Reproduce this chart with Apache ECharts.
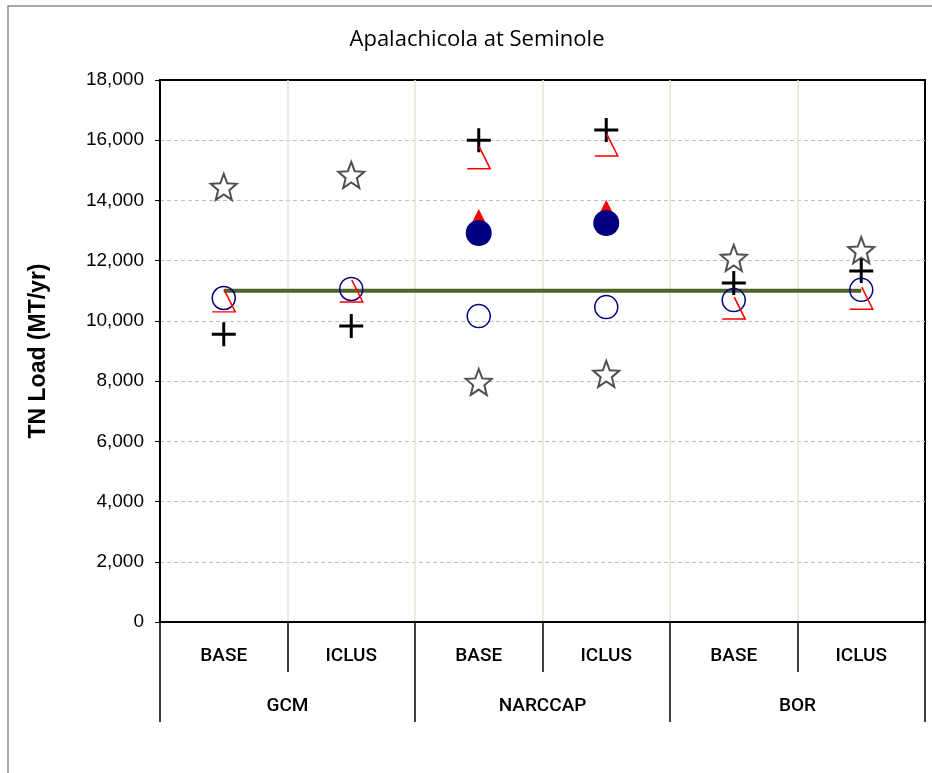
<!DOCTYPE html>
<html><head><meta charset="utf-8">
<script src="https://cdn.jsdelivr.net/npm/echarts@6/dist/echarts.min.js"></script>
<style>html,body{margin:0;padding:0;background:#fff}#c{width:932px;height:773px}</style>
</head><body><div id="c"></div>
<script>
var scenarios = ['BASE','ICLUS','BASE','ICLUS','BASE','ICLUS'];
var groups = ['GCM','NARCCAP','BOR'];
var yTicks = {min:0, max:18000, interval:2000};
var starVals = [14450, 14850, 7970, 8240, 12090, 12350];
var plusVals = [9560, 9830, 16000, 16340, 11260, 11660];
var redHookVals = [11030, 11360, 15780, 16210, 10790, 11120];
var openCircleVals = [10760, 11060, 10160, 10460, 10690, 11030];
var redTriVals = [null, null, 13450, 13760, null, null];
var filledCircleVals = [null, null, 12920, 13250, null, null];
var refLineVals = [11000, 11000, 11000, 11000, 11000, 11000];

function starPath(R, r){
  var p = [];
  for (var i = 0; i < 10; i++) {
    var a = (-90 + i*36) * Math.PI/180, rad = (i%2) ? r : R;
    p.push((R + rad*Math.cos(a)).toFixed(2) + ',' + (R + rad*Math.sin(a)).toFixed(2));
  }
  return 'path://M' + p.join('L') + 'Z';
}
var clear = 'rgba(0,0,0,0)';
var lblFont = 'Roboto, sans-serif';
var chart = echarts.init(document.getElementById('c'));
chart.setOption({
  animation:false,
  backgroundColor:'#fff',
  grid:{left:160, right:7, top:80, bottom:151, show:true, borderColor:'#000', borderWidth:2, backgroundColor:'#fff'},
  graphic:[
    {type:'rect', shape:{x:8, y:6, width:940, height:790}, style:{fill:null, stroke:'#8c8c8c', lineWidth:1.5}, silent:true, z:-10},
    {type:'text', x:477, y:40, style:{text:'Apalachicola at Seminole', font:'22px "Open Sans", sans-serif', fill:'#000', textAlign:'center', textVerticalAlign:'middle'}}
  ],
  xAxis:[
    {type:'category', data:scenarios, position:'bottom', boundaryGap:true,
     axisLine:{show:true, lineStyle:{color:'#000', width:2}},
     axisTick:{show:true, interval:0, length:50, lineStyle:{color:'#000', width:1.5}},
     axisLabel:{interval:0, margin:25, color:'#000', fontSize:19, fontWeight:500, fontFamily:lblFont},
     splitLine:{show:true, interval:0, showMinLine:false, showMaxLine:false, lineStyle:{color:'#e4e4d6', width:1.5}}},
    {type:'category', data:groups, position:'bottom', offset:50, boundaryGap:true,
     axisLine:{show:false},
     axisTick:{show:true, interval:0, length:50, lineStyle:{color:'#000', width:1.5}},
     axisLabel:{interval:0, margin:25, color:'#000', fontSize:19, fontWeight:500, fontFamily:lblFont},
     splitLine:{show:false}}
  ],
  yAxis:[
    {type:'value', min:yTicks.min, max:yTicks.max, interval:yTicks.interval,
     name:'TN Load (MT/yr)', nameLocation:'middle', nameGap:110, nameRotate:90,
     nameTextStyle:{fontSize:23, fontWeight:'bold', color:'#000', fontFamily:'"Liberation Sans", Arial, sans-serif'},
     axisLine:{show:true, lineStyle:{color:'#000', width:2}},
     axisTick:{show:true, length:5, lineStyle:{color:'#000'}},
     axisLabel:{margin:16, color:'#000', fontSize:19, fontFamily:'"Liberation Sans", Arial, sans-serif',
       formatter:function(v){return v.toLocaleString('en-US');}},
     splitLine:{show:true, showMinLine:false, showMaxLine:false, lineStyle:{color:'#bfbfbf', type:[4,3], width:1}}}
  ],
  series:[
    {type:'line', data:refLineVals, showSymbol:false, symbol:'none', lineStyle:{color:'#4f6228', width:4}, z:1},
    {type:'scatter', data:starVals, symbol:starPath(13,5.6), symbolSize:26,
     itemStyle:{color:'#fff', borderColor:'#505050', borderWidth:2, opacity:1}, z:2},
    {type:'scatter', data:plusVals, symbol:'path://M0,12L24,12M12,0L12,24', symbolSize:24,
     itemStyle:{color:clear, borderColor:'#000', borderWidth:3, opacity:1}, z:3},
    {type:'scatter', data:openCircleVals, symbol:'circle', symbolSize:23,
     itemStyle:{color:clear, borderColor:'#000080', borderWidth:1.5, opacity:1}, z:4},
    {type:'scatter', data:redHookVals, symbol:'path://M12,0L23,22L0,22', symbolSize:[23,22], symbolOffset:[0,11],
     itemStyle:{color:clear, borderColor:'#ff0000', borderWidth:1.5, opacity:1}, z:5},
    {type:'scatter', data:redTriVals, symbol:'triangle', symbolSize:[16,16],
     itemStyle:{color:'#ff0000', opacity:1}, z:6},
    {type:'scatter', data:filledCircleVals, symbol:'circle', symbolSize:26,
     itemStyle:{color:'#000080', opacity:1}, z:7}
  ]
});
</script></body></html>
